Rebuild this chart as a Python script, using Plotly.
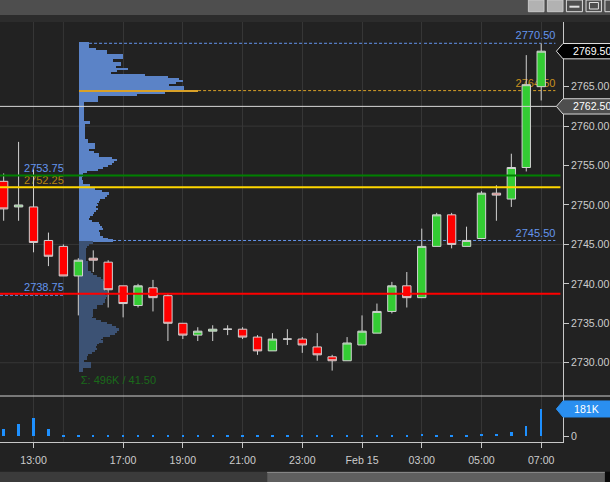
import plotly.graph_objects as go

# ---------------- data ----------------
# 30-minute bars; index 0 = 13:00 Feb 14 (session break 15:30 -> 17:00)
bar_index = list(range(-2, 35))
opens = [2753.00, 2749.75, 2749.75, 2745.50, 2744.75, 2741.00, 2743.25, 2742.75,
         2739.75, 2737.25, 2739.50, 2738.50, 2735.00, 2733.50, 2734.00, 2734.25,
         2734.25, 2733.25, 2731.50, 2733.00, 2733.00, 2732.00, 2730.75, 2730.25,
         2732.25, 2733.75, 2736.50, 2739.75, 2738.25, 2744.75, 2748.75, 2744.75,
         2745.75, 2751.50, 2750.75, 2754.75, 2765.00]
highs = [2754.00, 2758.00, 2754.50, 2746.50, 2745.00, 2743.25, 2744.25, 2743.00,
         2739.75, 2740.00, 2740.50, 2738.75, 2735.00, 2734.50, 2734.75, 2734.75,
         2734.50, 2733.50, 2733.75, 2734.25, 2733.25, 2733.75, 2731.00, 2733.25,
         2736.00, 2737.50, 2740.25, 2741.50, 2747.00, 2749.00, 2749.00, 2747.25,
         2751.75, 2752.50, 2756.50, 2769.00, 2770.50]
lows = [2748.00, 2748.00, 2744.00, 2742.25, 2741.00, 2736.00, 2741.50, 2737.00,
        2735.75, 2737.00, 2736.50, 2732.75, 2733.00, 2732.75, 2732.75, 2733.50,
        2733.00, 2731.00, 2731.50, 2732.25, 2731.25, 2730.25, 2729.00, 2730.25,
        2732.25, 2733.75, 2736.25, 2737.00, 2738.25, 2744.75, 2744.50, 2744.75,
        2745.75, 2748.00, 2749.75, 2754.25, 2763.25]
closes = [2749.50, 2750.00, 2745.25, 2743.50, 2741.00, 2743.00, 2743.00, 2739.25,
          2737.50, 2739.75, 2738.25, 2735.00, 2733.50, 2734.00, 2734.25, 2734.25,
          2733.25, 2731.50, 2733.00, 2733.00, 2732.25, 2731.00, 2730.25, 2732.50,
          2734.00, 2736.50, 2739.75, 2738.25, 2744.75, 2748.75, 2745.00, 2745.50,
          2751.50, 2751.25, 2754.75, 2765.25, 2769.50]
volumes = [46000, 82000, 122000, 49000, 4000, 4000, 9000, 9000,
           3000, 3000, 3000, 3000, 3000, 3000, 3000, 3000,
           3000, 3000, 3000, 3000, 3000, 3000, 3000, 9000,
           9000, 9000, 9000, 9000, 15000, 9000, 9000, 9000,
           15000, 15000, 29000, 68000, 181000]

tick_index = [0, 6, 10, 14, 18, 22, 26, 30, 34]
tick_labels = ["13:00", "17:00", "19:00", "21:00", "23:00", "Feb 15", "03:00", "05:00", "07:00"]
extra_grid_index = [2]

price_ticks = [2730, 2735, 2740, 2745, 2750, 2755, 2760, 2765]
price_grid = [2730, 2745, 2760]

# volume profile (contracts per 0.25 tick, from 2770.50 downward)
profile_high = 2770.50
profile_tick = 0.25
profile_volume = [
    1300, 1300, 1300, 2210, 3640, 3640, 5720, 5720, 4420, 4420,
    5460, 5460, 4810, 6370, 4940, 4160, 8580, 11570, 13000, 13520,
    12610, 11700, 13650, 13650, 15470, 11180, 7540, 2470, 2470, 2470,
    650, 650, 650, 650, 650, 650, 650, 650, 650, 650,
    1430, 780, 780, 780, 780, 780, 780, 780, 780, 1170,
    1170, 2080, 2080, 2080, 1300, 1950, 2600, 2600, 4290, 4940,
    4550, 4290, 3770, 3120, 2470, 1040, 520, 520, 390, 390,
    520, 520, 1430, 1430, 2080, 2990, 3900, 3640, 3380, 2730,
    2600, 2340, 2470, 2210, 2470, 2210, 1950, 1820, 1430, 1300,
    1690, 2600, 2730, 2990, 3120, 2600, 2730, 2730, 3120, 3770,
    4420, 1820, 1300, 1040, 910, 910, 910, 910, 910, 910,
    910, 1170, 1170, 1170, 1170, 1170, 1560, 1820, 2340, 2860,
    3120, 3510, 3900, 4290, 3900, 3380, 3640, 3380, 3640, 3510,
    3380, 3380, 3120, 2340, 2340, 1820, 1820, 1820, 1820, 1690,
    2210, 2860, 3640, 4290, 4810, 5200, 4940, 4680, 4030, 3120,
    2860, 3120, 2600, 2340, 2210, 2340, 2080, 1690, 1170, 1040,
    1040, 650, 1560, 1560, 1560, 520, 520]
profile_poc = 2764.50
profile_vah = 2770.50
profile_val = 2745.50
profile_total_label = "Σ: 496K / 41.50"

level_green = 2753.75
level_yellow = 2752.25
level_red = 2738.75
level_white = 2762.50
last_price = 2769.50
last_volume = 181000
last_volume_label = "181K"

# ---------------- layout geometry ----------------
FONT = "Liberation Sans, Arial, sans-serif"
W, H = 610, 482
ML, MR, MT, MB = 0, 47.4, 22, 40
PW, PH = W - ML - MR, H - MT - MB
XR = [-2.245, 35.46]
YR = [2725.78, 2773.2]
VR = [-37800, 267000]
VOL_TOP = 46 / PH
PROF_PX_SCALE = 130  # contracts per pixel of profile width
PROF_LEFT_PX = 79
X3R = [-PROF_LEFT_PX * PROF_PX_SCALE, (PW - PROF_LEFT_PX) * PROF_PX_SCALE]
GRID = "#363636"
AXC = "#c8c8c8"
BLUE = "#6495ed"
TICKFONT = dict(family=FONT, size=10.6, color="#cccccc")


def px(x):
    return (x - ML) / PW


def py(y):
    return (H - MB - y) / PH


def xi(pixel):
    return XR[0] + pixel / PW * (XR[1] - XR[0])


profile_levels = [profile_high - i * profile_tick for i in range(len(profile_volume))]
profile_colors = []
for lv in profile_levels:
    if abs(lv - profile_poc) < 1e-9:
        profile_colors.append("#d9a128")
    elif profile_val <= lv <= profile_vah:
        profile_colors.append("#5b83c7")
    else:
        profile_colors.append("#3c5274")

fig = go.Figure()

# level labels (main subplot -> drawn beneath candles)
lab_x = [xi(555), xi(555), xi(555), xi(24), xi(24), xi(24), xi(80.7)]
lab_y = [profile_vah + 0.9, profile_poc + 0.85, profile_val + 0.85,
         level_green + 0.82, level_yellow + 0.72, level_red + 0.72, 2727.68]
lab_t = [f"{profile_vah:.2f}", f"{profile_poc:.2f}", f"{profile_val:.2f}",
         f"{level_green:.2f}", f"{level_yellow:.2f}", f"{level_red:.2f}", profile_total_label]
lab_pos = ["middle left"] * 3 + ["middle right"] * 4
lab_col = [BLUE, "#c8901e", BLUE, BLUE, "#b8860b", BLUE, "#1a6a1a"]
fig.add_trace(go.Scatter(x=lab_x, y=lab_y, mode="text", text=lab_t,
                         textposition=lab_pos, xaxis="x", yaxis="y", hoverinfo="skip",
                         textfont=dict(family=FONT, size=11, color=lab_col)))

# volume histogram
fig.add_trace(go.Bar(x=bar_index, y=volumes, xaxis="x", yaxis="y2", width=0.16,
                     marker=dict(color="#1e90ff", line=dict(width=0)), hoverinfo="skip"))

# volume profile
fig.add_trace(go.Bar(y=profile_levels, x=profile_volume, orientation="h", xaxis="x3", yaxis="y",
                     width=profile_tick, marker=dict(color=profile_colors, line=dict(width=0)),
                     hoverinfo="skip"))

# candles
fig.add_trace(go.Candlestick(x=bar_index, open=opens, high=highs, low=lows, close=closes,
                             xaxis="x4", yaxis="y", whiskerwidth=0, hoverinfo="skip",
                             increasing=dict(fillcolor="#33cc33", line=dict(color="#d2d2d2", width=1)),
                             decreasing=dict(fillcolor="#ff0000", line=dict(color="#d2d2d2", width=1))))

shapes = []
for gi in extra_grid_index:
    shapes.append(dict(type="line", xref="x", yref="paper", x0=gi, x1=gi, y0=0, y1=1,
                       line=dict(color=GRID, width=1), layer="below"))
for g in price_grid:
    shapes.append(dict(type="line", xref="paper", yref="y", x0=0, x1=1, y0=g, y1=g,
                       line=dict(color=GRID, width=1), layer="below"))

# dashed profile levels
end_x3 = (555 - PROF_LEFT_PX) * PROF_PX_SCALE
for lv, col in [(profile_vah, BLUE), (profile_poc, "#d9a128"), (profile_val, BLUE)]:
    start = profile_volume[profile_levels.index(lv)]
    shapes.append(dict(type="line", xref="x3", yref="y", x0=start, x1=end_x3, y0=lv, y1=lv,
                       line=dict(color=col, width=1, dash="3px,2px"), layer="below"))
shapes.append(dict(type="line", xref="paper", yref="y", x0=0, x1=px(64), y0=level_red - 0.2,
                   y1=level_red - 0.2, line=dict(color=BLUE, width=1, dash="3px,2px"), layer="below"))

# solid reference lines
for lv, col, wd, xe in [(level_white, "#d8d8d8", 1, 556), (level_green, "#008000", 2, 560),
                        (level_yellow, "#ffd700", 2, 560), (level_red, "#ff0000", 2, 560)]:
    shapes.append(dict(type="line", xref="paper", yref="y", x0=0, x1=px(xe), y0=lv, y1=lv,
                       line=dict(color=col, width=wd), layer="above"))

# panel separator
shapes.append(dict(type="line", xref="paper", yref="paper", x0=0, x1=px(612), y0=VOL_TOP, y1=VOL_TOP,
                   line=dict(color="#cfcfcf", width=1), layer="above"))


def tag(yc, half, yref, fill, border):
    p = (f"M {px(556)},{yc} L 1,{yc + half} L {px(612)},{yc + half} "
         f"L {px(612)},{yc - half} L 1,{yc - half} Z")
    return dict(type="path", path=p, xref="paper", yref=yref, fillcolor=fill,
                line=dict(color=border, width=1), layer="above")


shapes.append(tag(last_price, 0.97, "y", "#000000", "#e0e0e0"))
shapes.append(tag(level_white, 0.97, "y", "#4e4e4e", "#d8d8d8"))
shapes.append(tag(last_volume, 53000, "y2", "#2a8ff0", "#2a8ff0"))

# window chrome: title bar, strip, buttons, scroll bar
shapes.append(dict(type="rect", xref="paper", yref="paper", x0=px(0), x1=px(612), y0=py(0), y1=py(15),
                   fillcolor="#4e4e4e", line=dict(width=0), layer="below"))
shapes.append(dict(type="rect", xref="paper", yref="paper", x0=px(0), x1=px(612), y0=py(15), y1=py(22),
                   fillcolor="#2c2c2c", line=dict(width=0), layer="below"))
for x0, x1 in [(528, 543.6), (547, 562.6)]:
    shapes.append(dict(type="rect", xref="paper", yref="paper", x0=px(x0), x1=px(x1), y0=py(0), y1=py(11.7),
                       fillcolor="#b2b2b2", line=dict(color="#c8c8c8", width=1), layer="above"))
for x0, x1 in [(566, 582), (585.6, 601), (604.5, 614)]:
    shapes.append(dict(type="rect", xref="paper", yref="paper", x0=px(x0), x1=px(x1), y0=py(0), y1=py(11.7),
                       fillcolor="#4e4e4e", line=dict(color="#dcdcdc", width=1), layer="above"))
shapes.append(dict(type="line", xref="paper", yref="paper", x0=px(569), x1=px(579), y0=py(6.7), y1=py(6.7),
                   line=dict(color="#e0e0e0", width=2), layer="above"))
shapes.append(dict(type="rect", xref="paper", yref="paper", x0=px(589), x1=px(598), y0=py(2.5), y1=py(9),
                   line=dict(color="#e0e0e0", width=1), layer="above"))
shapes.append(dict(type="rect", xref="paper", yref="paper", x0=px(0), x1=px(267), y0=py(471.7), y1=py(482),
                   fillcolor="#3b3b3b", line=dict(width=0), layer="above"))
shapes.append(dict(type="rect", xref="paper", yref="paper", x0=px(267), x1=px(604.5), y0=py(471.7), y1=py(482),
                   fillcolor="#5f5f5f", line=dict(width=0), layer="above"))
shapes.append(dict(type="line", xref="paper", yref="paper", x0=px(267), x1=px(604.5), y0=py(472.5), y1=py(472.5),
                   line=dict(color="#858585", width=1), layer="above"))
shapes.append(dict(type="rect", xref="paper", yref="paper", x0=px(604.5), x1=px(612), y0=py(471.7), y1=py(482),
                   fillcolor="#0a0a0a", line=dict(width=0), layer="above"))

TAGFONT = dict(family=FONT, size=10.6, color="#ffffff")
annotations = [
    dict(x=px(570.5), y=last_price, xref="paper", yref="y", text=f"{last_price:.2f}", showarrow=False,
         xanchor="left", yanchor="middle", font=TAGFONT),
    dict(x=px(570.5), y=level_white, xref="paper", yref="y", text=f"{level_white:.2f}", showarrow=False,
         xanchor="left", yanchor="middle", font=TAGFONT),
    dict(x=px(571.5), y=last_volume, xref="paper", yref="y2", text=last_volume_label, showarrow=False,
         xanchor="left", yanchor="middle", font=TAGFONT),
]

fig.update_layout(
    width=W, height=H,
    margin=dict(l=ML, r=MR, t=MT, b=MB, autoexpand=False),
    paper_bgcolor="#222222", plot_bgcolor="#222222",
    showlegend=False, boxgap=0.44, boxgroupgap=0, bargap=0,
    font=dict(family=FONT, size=11, color="#cccccc"),
    shapes=shapes, annotations=annotations,
    xaxis=dict(domain=[0, 1], anchor="y2", range=XR, tickmode="array", tickvals=tick_index,
               ticktext=tick_labels, ticks="outside", ticklen=5, tickcolor=AXC, showgrid=True,
               gridcolor=GRID, gridwidth=1, showline=True, linecolor=AXC, zeroline=False,
               tickfont=TICKFONT, ticklabelstandoff=3,
               rangeslider=dict(visible=False)),
    xaxis3=dict(overlaying="x", anchor="y", range=X3R, visible=False),
    xaxis4=dict(overlaying="x", anchor="y", matches="x", range=XR, visible=False,
                rangeslider=dict(visible=False)),
    yaxis=dict(domain=[VOL_TOP, 1], anchor="x", side="right", range=YR, tickmode="array",
               tickvals=price_ticks, tickformat=".2f", ticks="outside", ticklen=5, tickcolor=AXC,
               showgrid=False, showline=True, linecolor=AXC, zeroline=False, tickfont=TICKFONT),
    yaxis2=dict(domain=[0, VOL_TOP], anchor="x", side="right", range=VR, tickmode="array",
                tickvals=[0], ticktext=["0"], ticks="outside", ticklen=5, tickcolor=AXC,
                showgrid=False, showline=True, linecolor=AXC, zeroline=False, tickfont=TICKFONT),
)

fig.write_html("out.html", config={"displayModeBar": False},
               post_script="document.body.style.margin='0px';document.body.style.overflow='hidden';")
